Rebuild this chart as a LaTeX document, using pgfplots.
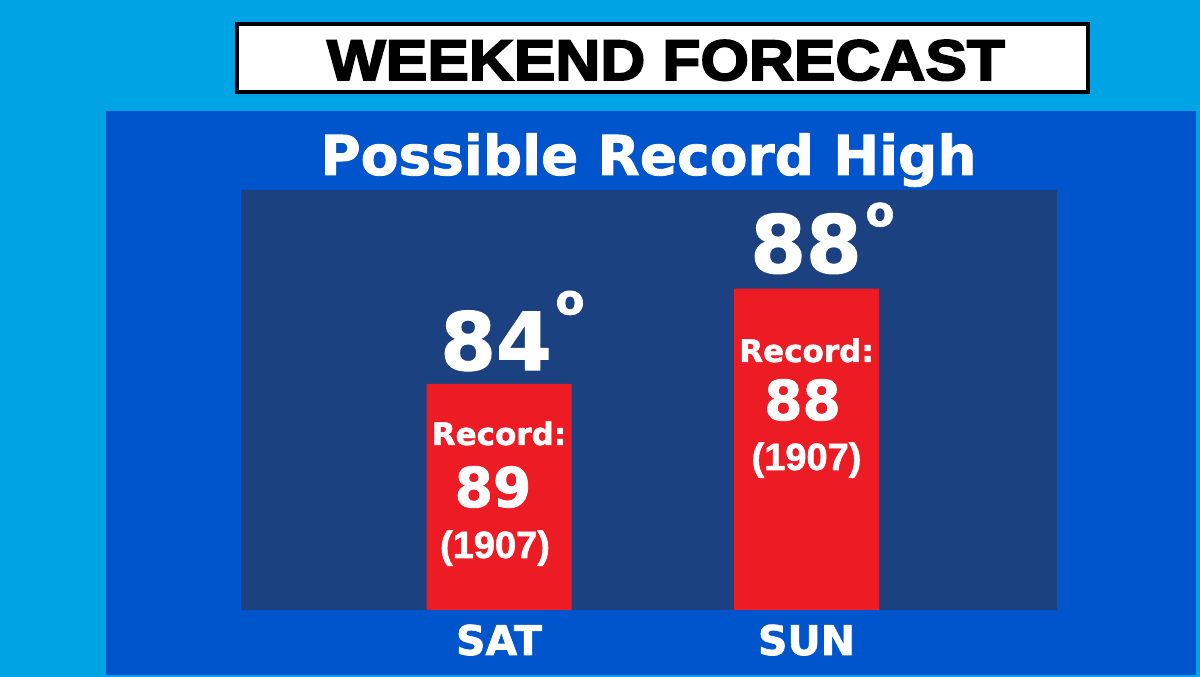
\documentclass[border=0pt]{standalone}
\usepackage{fontspec}
\setmainfont{DejaVu Sans}
\newfontfamily\hv{DejaVu Sans Bold}[FakeBold=1.5]
\newfontfamily\lib{Liberation Sans Bold}[FakeBold=1.5]
\newfontfamily\tit{Liberation Sans Bold}[FakeBold=3]
\usepackage{pgfplots}
\pgfplotsset{compat=1.18}
\definecolor{sky}{RGB}{0,163,228}
\definecolor{panel}{RGB}{0,85,204}
\definecolor{navy}{RGB}{27,65,128}
\definecolor{barred}{RGB}{237,28,36}
\begin{document}
\begin{tikzpicture}[x=1pt,y=1pt]
% background
\fill[sky] (0,0) rectangle (1200,677);
% title box
\draw[line width=3.5pt, draw=black, fill=white] (237,585) rectangle (1088,653);
\node[anchor=base, inner sep=0, text=black] at (666,597)
  {\resizebox{678pt}{40pt}{\tit\fontsize{56}{56}\selectfont WEEKEND FORECAST}};
% panel
\fill[panel] (106,2) rectangle (1196,566);
\node[anchor=base, inner sep=0, text=white, font=\hv\fontsize{55}{55}\selectfont] at (648.5,502) {Possible Record High};
\begin{axis}[
  at={(241pt,67pt)}, anchor=south west,
  scale only axis, width=816pt, height=420pt,
  xmin=-0.839, xmax=1.8146, ymin=74.5, ymax=92.15,
  axis background/.style={fill=navy},
  axis line style={draw=none},
  xtick={0,1}, xticklabels={SAT,SUN},
  major tick length=0pt,
  ytick=\empty,
  xticklabel style={anchor=base, yshift=-45pt, inner sep=0pt, text=white,
    font=\hv\fontsize{41}{41}\selectfont},
  ybar, bar width=145pt, bar shift=0pt,
]
\addplot[fill=barred, draw=none] coordinates {(0,84) (1,88)};
% forecast labels
\node[anchor=base, inner sep=0, text=white, font=\hv\fontsize{80}{80}\selectfont] at (axis cs:0,84) [xshift=-3pt, yshift=14pt] {84};
\node[anchor=center, inner sep=0, text=white, font=\hv\fontsize{42}{42}\selectfont] at (axis cs:0,84) [xshift=71pt, yshift=81pt] {o};
\node[anchor=base, inner sep=0, text=white, font=\hv\fontsize{80}{80}\selectfont] at (axis cs:1,88) [xshift=-0.5pt, yshift=16pt] {88};
\node[anchor=center, inner sep=0, text=white, font=\hv\fontsize{42}{42}\selectfont] at (axis cs:1,88) [xshift=73.5pt, yshift=74pt] {o};
% record labels SAT
\node[anchor=base, inner sep=0, text=white, font=\hv\fontsize{31}{31}\selectfont] at (axis cs:0,74.5) [yshift=165pt] {Record:};
\node[anchor=base, inner sep=0, text=white, font=\hv\fontsize{55}{55}\selectfont] at (axis cs:0,74.5) [xshift=-6pt, yshift=103pt] {89};
\node[anchor=base, inner sep=0, text=white, font=\lib\fontsize{38}{38}\selectfont] at (axis cs:0,74.5) [xshift=-4pt, yshift=52pt] {(1907)};
% record labels SUN
\node[anchor=base, inner sep=0, text=white, font=\hv\fontsize{31}{31}\selectfont] at (axis cs:1,74.5) [yshift=248pt] {Record:};
\node[anchor=base, inner sep=0, text=white, font=\hv\fontsize{55}{55}\selectfont] at (axis cs:1,74.5) [xshift=-4pt, yshift=190pt] {88};
\node[anchor=base, inner sep=0, text=white, font=\lib\fontsize{38}{38}\selectfont] at (axis cs:1,74.5) [yshift=140pt] {(1907)};
\end{axis}
\pgfresetboundingbox
\path (0,0) rectangle (1200,677);
\end{tikzpicture}
\end{document}
